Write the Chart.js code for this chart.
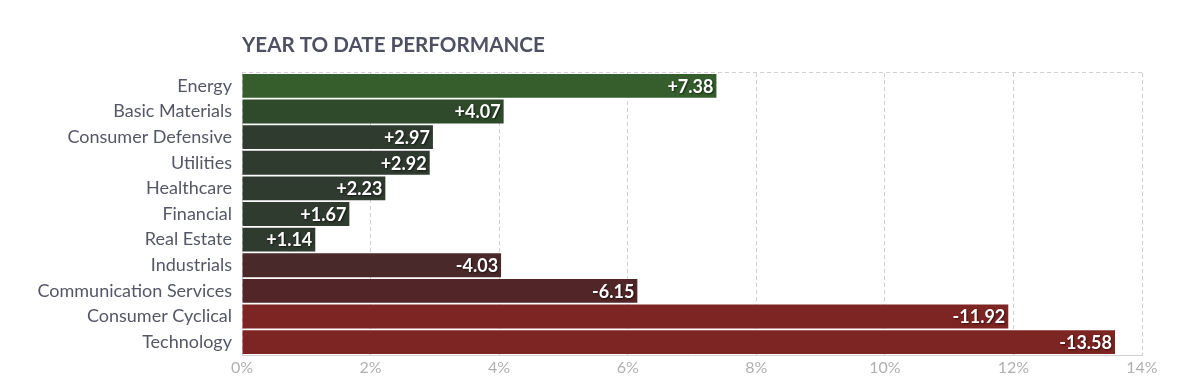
<!DOCTYPE html>
<html>
<head>
<meta charset="utf-8">
<script src="https://cdn.jsdelivr.net/npm/chart.js@4/dist/chart.umd.min.js"></script>
<style>
html,body{margin:0;padding:0;background:#fff;}
#wrap{width:1184px;height:392px;position:relative;}
</style>
</head>
<body>
<div id="wrap"><canvas id="c" width="1184" height="392"></canvas></div>
<script>
const categories = ["Energy","Basic Materials","Consumer Defensive","Utilities","Healthcare","Financial","Real Estate","Industrials","Communication Services","Consumer Cyclical","Technology"];
const performance = [7.38, 4.07, 2.97, 2.92, 2.23, 1.67, 1.14, -4.03, -6.15, -11.92, -13.58];
const barColors = ["#355e2c","#2f4a2b","#2f3b2e","#2f3b2e","#2f3b2e","#2f3b2e","#2f3b2e","#4a292b","#522628","#7d2522","#7d2522"];
const xTicks = [0,2,4,6,8,10,12,14];
const titleText = "YEAR TO DATE PERFORMANCE";

const magnitudes = performance.map(v => Math.abs(v));
const FONT = "Lato, 'Open Sans', sans-serif";

const overlay = {
  id: 'overlay',
  beforeDatasetsDraw(chart) {
    const ctx = chart.ctx, a = chart.chartArea;
    ctx.save();
    ctx.strokeStyle = '#d0d0d0';
    ctx.lineWidth = 1;
    ctx.setLineDash([4,3]);
    ctx.beginPath();
    ctx.moveTo(a.left, Math.round(a.top) - 0.5);
    ctx.lineTo(a.right, Math.round(a.top) - 0.5);
    ctx.stroke();
    ctx.restore();
  },
  afterDatasetsDraw(chart) {
    const ctx = chart.ctx, a = chart.chartArea;
    ctx.save();
    ctx.fillStyle = '#4f5162';
    ctx.font = "bold 20.6px " + FONT;
    ctx.textAlign = 'left';
    ctx.textBaseline = 'middle';
    ctx.fillText(titleText, a.left, 45);
    const meta = chart.getDatasetMeta(0);
    ctx.font = "bold 18px " + FONT;
    ctx.textAlign = 'right';
    ctx.textBaseline = 'middle';
    ctx.fillStyle = '#ffffff';
    ctx.shadowColor = 'rgba(0,0,0,0.6)';
    ctx.shadowBlur = 2;
    ctx.shadowOffsetX = 1;
    ctx.shadowOffsetY = 1;
    meta.data.forEach((bar, i) => {
      const v = performance[i];
      const txt = (v >= 0 ? '+' : '') + v.toFixed(2);
      ctx.fillText(txt, bar.x - 3, bar.y + 1);
    });
    ctx.restore();
  }
};

new Chart(document.getElementById('c'), {
  type: 'bar',
  data: {
    labels: categories,
    datasets: [{
      data: magnitudes,
      backgroundColor: barColors,
      borderWidth: 0,
      barPercentage: 0.93,
      categoryPercentage: 1.0
    }]
  },
  options: {
    indexAxis: 'y',
    responsive: false,
    animation: false,
    devicePixelRatio: 1,
    layout: { padding: { top: 73, right: 42, bottom: 0, left: 0 } },
    plugins: { legend: { display: false }, tooltip: { enabled: false }, title: { display: false } },
    scales: {
      x: {
        min: 0, max: 14,
        afterBuildTicks(scale) { scale.ticks = xTicks.map(v => ({ value: v })); },
        ticks: {
          color: '#b0b0b0',
          font: { family: FONT, size: 16 },
          padding: 3,
          callback: v => v + '%'
        },
        grid: { color: '#d0d0d0', lineWidth: 1, drawTicks: false, tickLength: 0 },
        border: { display: true, color: '#d0d0d0', dash: [4,3] },
        afterFit(s) { s.height = 37; }
      },
      y: {
        ticks: {
          color: '#555767',
          font: { family: FONT, size: 18 },
          padding: 10,
          autoSkip: false
        },
        grid: { display: false, drawTicks: false },
        border: { display: false },
        afterFit(s) { s.width = 242; }
      }
    }
  },
  plugins: [overlay]
});
</script>
</body>
</html>
